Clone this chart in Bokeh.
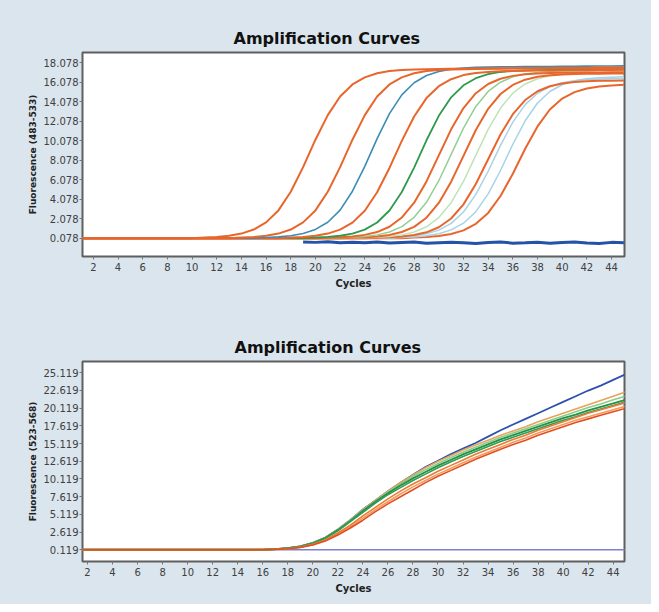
from bokeh.plotting import figure
from bokeh.layouts import column
from bokeh.models import FixedTicker, NumeralTickFormatter, Range1d
from bokeh.embed import file_html
from bokeh.resources import INLINE

# ---------------- data ----------------
cycles = list(range(1, 46))
x_ticks = [2, 4, 6, 8, 10, 12, 14, 16, 18, 20, 22, 24, 26, 28, 30, 32, 34, 36, 38, 40, 42, 44]

top_yticks = [0.078, 2.078, 4.078, 6.078, 8.078, 10.078, 12.078, 14.078, 16.078, 18.078]
bot_yticks = [0.119, 2.619, 5.119, 7.619, 10.119, 12.619, 15.119, 17.619, 20.119, 22.619, 25.119]

# top panel (483-533): fluorescence per cycle 1..45
top_c1 = [0.08, 0.08, 0.08, 0.08, 0.08, 0.08, 0.08, 0.08, 0.08, 0.08,
          0.15, 0.21, 0.33, 0.55, 0.97, 1.70, 2.93, 4.85, 7.37, 10.19, 12.71, 14.63, 15.86, 16.59, 17.01,
          17.24, 17.35, 17.40, 17.43, 17.45, 17.47, 17.48, 17.50, 17.51, 17.52, 17.53, 17.54, 17.55,
          17.56, 17.57, 17.58, 17.58, 17.59, 17.60, 17.60]
top_c2 = [0.08, 0.08, 0.08, 0.08, 0.08, 0.08, 0.08, 0.08, 0.08, 0.08, 0.08, 0.08, 0.08,
          0.15, 0.21, 0.33, 0.55, 0.97, 1.70, 2.93, 4.85, 7.37, 10.19, 12.71, 14.63, 15.86, 16.59,
          17.01, 17.24, 17.35, 17.40, 17.43, 17.45, 17.47, 17.48, 17.50, 17.51, 17.52, 17.53, 17.54,
          17.55, 17.56, 17.57, 17.58, 17.58]
top_c3 = [0.08, 0.08, 0.08, 0.08, 0.08, 0.08, 0.08, 0.08, 0.08, 0.08, 0.08, 0.08, 0.08, 0.08, 0.08,
          0.15, 0.21, 0.33, 0.56, 0.98, 1.71, 2.96, 4.90, 7.45, 10.30, 12.86, 14.79, 16.04, 16.78,
          17.20, 17.43, 17.54, 17.61, 17.64, 17.66, 17.68, 17.69, 17.70, 17.71, 17.72, 17.73, 17.74,
          17.75, 17.76, 17.77]
top_c4 = [0.08, 0.08, 0.08, 0.08, 0.08, 0.08, 0.08, 0.08, 0.08, 0.08, 0.08, 0.08, 0.08, 0.08, 0.08,
          0.08, 0.08,
          0.15, 0.21, 0.33, 0.55, 0.96, 1.68, 2.90, 4.79, 7.29, 10.07, 12.57, 14.46, 15.68, 16.40,
          16.82, 17.04, 17.15, 17.21, 17.24, 17.26, 17.28, 17.30, 17.31, 17.32, 17.33, 17.34, 17.35,
          17.36]
top_c5 = [0.08, 0.08, 0.08, 0.08, 0.08, 0.08, 0.08, 0.08, 0.08, 0.08, 0.08, 0.08, 0.08, 0.08, 0.08,
          0.08, 0.08, 0.08, 0.08,
          0.15, 0.21, 0.33, 0.55, 0.96, 1.69, 2.92, 4.82, 7.33, 10.13, 12.64, 14.54, 15.77, 16.50,
          16.91, 17.14, 17.25, 17.31, 17.34, 17.36, 17.38, 17.40, 17.41, 17.42, 17.43, 17.44]
top_c6 = [0.08, 0.08, 0.08, 0.08, 0.08, 0.08, 0.08, 0.08, 0.08, 0.08, 0.08, 0.08, 0.08, 0.08, 0.08,
          0.08, 0.08, 0.08, 0.08, 0.08,
          0.13, 0.17, 0.26, 0.42, 0.71, 1.25, 2.20, 3.72, 5.91, 8.58, 11.25, 13.44, 14.96, 15.91,
          16.45, 16.74, 16.90, 16.99, 17.03, 17.05, 17.07, 17.08, 17.09, 17.10, 17.11]
top_c7 = [0.08, 0.08, 0.08, 0.08, 0.08, 0.08, 0.08, 0.08, 0.08, 0.08, 0.08, 0.08, 0.08, 0.08, 0.08,
          0.08, 0.08, 0.08, 0.08, 0.08, 0.08,
          0.13, 0.17, 0.26, 0.42, 0.72, 1.27, 2.22, 3.76, 5.98, 8.68, 11.38, 13.60, 15.14, 16.09,
          16.64, 16.94, 17.10, 17.19, 17.23, 17.25, 17.27, 17.28, 17.29, 17.30]
top_c8 = [0.08, 0.08, 0.08, 0.08, 0.08, 0.08, 0.08, 0.08, 0.08, 0.08, 0.08, 0.08, 0.08, 0.08, 0.08,
          0.08, 0.08, 0.08, 0.08, 0.08, 0.08, 0.08,
          0.13, 0.17, 0.26, 0.41, 0.71, 1.24, 2.18, 3.70, 5.88, 8.53, 11.18, 13.36, 14.88, 15.81,
          16.35, 16.65, 16.80, 16.89, 16.93, 16.95, 16.97, 16.98, 16.99]
top_c9 = [0.08, 0.08, 0.08, 0.08, 0.08, 0.08, 0.08, 0.08, 0.08, 0.08, 0.08, 0.08, 0.08, 0.08, 0.08,
          0.08, 0.08, 0.08, 0.08, 0.08, 0.08, 0.08, 0.08,
          0.13, 0.17, 0.26, 0.42, 0.71, 1.25, 2.20, 3.72, 5.91, 8.58, 11.25, 13.44, 14.96, 15.91,
          16.45, 16.74, 16.90, 16.99, 17.03, 17.05, 17.07, 17.08]
top_c10 = [0.08, 0.08, 0.08, 0.08, 0.08, 0.08, 0.08, 0.08, 0.08, 0.08, 0.08, 0.08, 0.08, 0.08, 0.08,
           0.08, 0.08, 0.08, 0.08, 0.08, 0.08, 0.08, 0.08, 0.08,
           0.13, 0.17, 0.25, 0.40, 0.68, 1.20, 2.10, 3.55, 5.64, 8.18, 10.72, 12.81, 14.26, 15.16,
           15.68, 15.96, 16.11, 16.19, 16.23, 16.25, 16.27]
top_c11 = [0.08, 0.08, 0.08, 0.08, 0.08, 0.08, 0.08, 0.08, 0.08, 0.08, 0.08, 0.08, 0.08, 0.08, 0.08,
           0.08, 0.08, 0.08, 0.08, 0.08, 0.08, 0.08, 0.08, 0.08, 0.08,
           0.14, 0.20, 0.31, 0.53, 0.91, 1.60, 2.77, 4.57, 6.95, 9.61, 11.99, 13.79, 14.95, 15.64,
           16.04, 16.25, 16.36, 16.41, 16.44, 16.46]
top_c12 = [0.08, 0.08, 0.08, 0.08, 0.08, 0.08, 0.08, 0.08, 0.08, 0.08, 0.08, 0.08, 0.08, 0.08, 0.08,
           0.08, 0.08, 0.08, 0.08, 0.08, 0.08, 0.08, 0.08, 0.08, 0.08, 0.08,
           0.14, 0.20, 0.32, 0.53, 0.93, 1.62, 2.80, 4.63, 7.03, 9.72, 12.13, 13.96, 15.14, 15.83,
           16.23, 16.45, 16.55, 16.61, 16.64]
top_c13 = [0.08, 0.08, 0.08, 0.08, 0.08, 0.08, 0.08, 0.08, 0.08, 0.08, 0.08, 0.08, 0.08, 0.08, 0.08,
           0.08, 0.08, 0.08, 0.08, 0.08, 0.08, 0.08, 0.08, 0.08, 0.08, 0.08, 0.08,
           0.14, 0.20, 0.31, 0.51, 0.88, 1.55, 2.67, 4.41, 6.70, 9.26, 11.55, 13.29, 14.41, 15.07,
           15.45, 15.66, 15.76, 15.82]
neg_cycles = [19, 20, 21, 22, 23, 24, 25, 26, 27, 28, 29, 30, 31, 32, 33, 34, 35, 36, 37, 38, 39,
              40, 41, 42, 43, 44, 45]
top_neg = [-0.30, -0.35, -0.28, -0.40, -0.33, -0.38, -0.30, -0.42, -0.36, -0.31, -0.45, -0.38,
           -0.33, -0.40, -0.47, -0.36, -0.30, -0.43, -0.39, -0.34, -0.44, -0.37, -0.31, -0.41,
           -0.46, -0.35, -0.38]

# bottom panel (523-568)
bot_blue = [0.15, 0.15, 0.15, 0.15, 0.15, 0.15, 0.15, 0.15, 0.15, 0.15, 0.15, 0.15, 0.15, 0.15,
            0.15, 0.15,
            0.22, 0.36, 0.62, 1.1, 1.85, 3.0, 4.35, 5.8, 7.1, 8.4, 9.6, 10.7, 11.8, 12.7, 13.6,
            14.4, 15.2, 16.1, 17.0, 17.8, 18.6, 19.4, 20.2, 21.0, 21.8, 22.6, 23.3, 24.1, 24.9]
bot_tan = [0.15, 0.15, 0.15, 0.15, 0.15, 0.15, 0.15, 0.15, 0.15, 0.15, 0.15, 0.15, 0.15, 0.15,
           0.15, 0.15,
           0.22, 0.36, 0.62, 1.1, 1.85, 3.0, 4.35, 5.8, 7.1, 8.4, 9.6, 10.7, 11.7, 12.6, 13.4,
           14.2, 14.9, 15.6, 16.3, 16.9, 17.5, 18.2, 18.8, 19.4, 20.0, 20.6, 21.2, 21.8, 22.4]
bot_ltgreen = [0.14, 0.14, 0.14, 0.14, 0.14, 0.14, 0.14, 0.14, 0.14, 0.14, 0.14, 0.14, 0.14, 0.14,
               0.14, 0.14,
               0.21, 0.34, 0.6, 1.07, 1.82, 2.95, 4.3, 5.7, 7.0, 8.3, 9.4, 10.5, 11.4, 12.3, 13.1,
               13.9, 14.6, 15.3, 16.0, 16.6, 17.2, 17.8, 18.4, 19.0, 19.6, 20.2, 20.7, 21.3, 21.8]
bot_green1 = [0.15, 0.15, 0.15, 0.15, 0.15, 0.15, 0.15, 0.15, 0.15, 0.15, 0.15, 0.15, 0.15, 0.15,
              0.15, 0.15,
              0.22, 0.35, 0.6, 1.05, 1.8, 2.9, 4.2, 5.6, 6.9, 8.1, 9.2, 10.2, 11.1, 12.0, 12.8,
              13.6, 14.3, 15.0, 15.7, 16.3, 16.9, 17.5, 18.1, 18.7, 19.2, 19.8, 20.3, 20.8, 21.3]
bot_green2 = [0.13, 0.13, 0.13, 0.13, 0.13, 0.13, 0.13, 0.13, 0.13, 0.13, 0.13, 0.13, 0.13, 0.13,
              0.13, 0.13,
              0.2, 0.33, 0.58, 1.0, 1.75, 2.8, 4.1, 5.4, 6.7, 7.9, 8.9, 9.9, 10.8, 11.7, 12.5,
              13.3, 14.0, 14.7, 15.4, 16.0, 16.6, 17.2, 17.8, 18.4, 18.9, 19.5, 20.0, 20.5, 21.0]
bot_orange1 = [0.14, 0.14, 0.14, 0.14, 0.14, 0.14, 0.14, 0.14, 0.14, 0.14, 0.14, 0.14, 0.14, 0.14,
               0.14, 0.14,
               0.2, 0.3, 0.5, 0.9, 1.5, 2.5, 3.6, 4.9, 6.1, 7.3, 8.4, 9.4, 10.3, 11.2, 12.0,
               12.8, 13.6, 14.3, 15.0, 15.7, 16.3, 17.0, 17.6, 18.2, 18.8, 19.4, 19.9, 20.4, 20.9]
bot_orange2 = [0.13, 0.13, 0.13, 0.13, 0.13, 0.13, 0.13, 0.13, 0.13, 0.13, 0.13, 0.13, 0.13, 0.13,
               0.13, 0.13,
               0.19, 0.29, 0.48, 0.85, 1.42, 2.35, 3.4, 4.6, 5.8, 6.9, 8.0, 9.0, 9.9, 10.8, 11.6,
               12.4, 13.2, 13.9, 14.6, 15.3, 15.9, 16.6, 17.2, 17.8, 18.4, 18.9, 19.4, 19.9, 20.4]
bot_orange3 = [0.12, 0.12, 0.12, 0.12, 0.12, 0.12, 0.12, 0.12, 0.12, 0.12, 0.12, 0.12, 0.12, 0.12,
               0.12, 0.12,
               0.18, 0.28, 0.45, 0.8, 1.35, 2.2, 3.2, 4.3, 5.5, 6.6, 7.6, 8.6, 9.6, 10.5, 11.3,
               12.1, 12.9, 13.6, 14.3, 15.0, 15.6, 16.3, 16.9, 17.5, 18.1, 18.6, 19.1, 19.6, 20.1]
flat_cycles = [1, 45]
bot_flat = [0.119, 0.119]

# ---------------- styling ----------------
BG = "#dbe5ed"
ORANGE = "#e8662c"
TEAL = "#3b8db5"
DKGREEN = "#2e9a4c"
LTGREEN = "#93cf93"
LTGREEN2 = "#bfe3b8"
LTBLUE = "#a8d2e6"
NEGBLUE = "#2452a8"
W = 651


def make_fig(title, ylabel, yticks, xr, yr, height, mb_left, mb_right, mb_top, mb_bottom, toff):
    p = figure(width=W, height=height, output_backend="svg", toolbar_location=None,
               x_range=Range1d(*xr), y_range=Range1d(*yr), title=title,
               min_border_left=mb_left, min_border_right=mb_right,
               min_border_top=mb_top, min_border_bottom=mb_bottom)
    p.background_fill_color = "white"
    p.border_fill_color = BG
    p.outline_line_color = "#5f5f5f"
    p.outline_line_width = 2
    p.grid.visible = False
    p.title.align = "left"
    p.title.offset = toff
    p.title.text_font = "DejaVu Sans"
    p.title.text_font_size = "16px"
    p.title.text_font_style = "bold"
    p.title.text_color = "#111111"
    p.xaxis.ticker = FixedTicker(ticks=x_ticks)
    p.yaxis.ticker = FixedTicker(ticks=yticks)
    p.yaxis.formatter = NumeralTickFormatter(format="0.000")
    p.axis.axis_line_color = None
    p.axis.major_tick_line_color = "#777777"
    p.axis.major_tick_out = 3
    p.axis.major_tick_in = 0
    p.axis.minor_tick_line_color = None
    p.axis.major_label_text_font = "DejaVu Sans"
    p.axis.major_label_text_font_size = "10px"
    p.axis.major_label_text_color = "#404040"
    p.xaxis.major_label_standoff = 3
    p.yaxis.major_label_standoff = 1
    p.xaxis.axis_label = "Cycles"
    p.yaxis.axis_label = ylabel
    p.axis.axis_label_text_font = "DejaVu Sans"
    p.axis.axis_label_text_font_style = "bold"
    p.axis.axis_label_text_color = "#222222"
    p.xaxis.axis_label_text_font_size = "10px"
    p.yaxis.axis_label_text_font_size = "9px"
    p.xaxis.axis_label_standoff = 4
    p.yaxis.axis_label_standoff = 3
    return p


p1 = make_fig("Amplification Curves", "Fluorescence (483-533)", top_yticks,
              (1.12, 45.05), (-1.8, 19.14), 308, 82, 21, 52, 52, 151)

top_series = [
    (top_c13, ORANGE, 2), (top_c12, LTBLUE, 1.5), (top_c11, LTBLUE, 1.5),
    (top_c10, ORANGE, 2), (top_c9, LTGREEN2, 1.5), (top_c8, ORANGE, 2),
    (top_c7, LTGREEN, 1.5), (top_c6, ORANGE, 2), (top_c5, DKGREEN, 1.8),
    (top_c4, ORANGE, 2), (top_c3, TEAL, 1.6), (top_c2, ORANGE, 2), (top_c1, ORANGE, 2),
]
for ys, col, w in top_series:
    p1.line(cycles, ys, line_color=col, line_width=w)
p1.line(neg_cycles, top_neg, line_color=NEGBLUE, line_width=3)

p2 = make_fig("Amplification Curves", "Fluorescence (523-568)", bot_yticks,
              (1.6, 44.9), (-1.53, 26.7), 296, 81, 27, 53, 43, 152)
p2.line(flat_cycles, bot_flat, line_color="#7f7fcf", line_width=1.5)
bot_series = [
    (bot_blue, "#3050b0", 1.8), (bot_tan, "#e6a45a", 1.6), (bot_ltgreen, "#8fcb8a", 1.6),
    (bot_orange2, "#f39a5c", 1.6), (bot_green1, "#249245", 1.8), (bot_green2, "#2f9d55", 1.6),
    (bot_orange1, "#ec7a35", 1.6), (bot_orange3, "#e14f1f", 1.6),
]
for ys, col, w in bot_series:
    p2.line(cycles, ys, line_color=col, line_width=w)

layout = column(p1, p2, spacing=0, styles={"background-color": BG})
open("out.html", "w").write(file_html(layout, INLINE))
